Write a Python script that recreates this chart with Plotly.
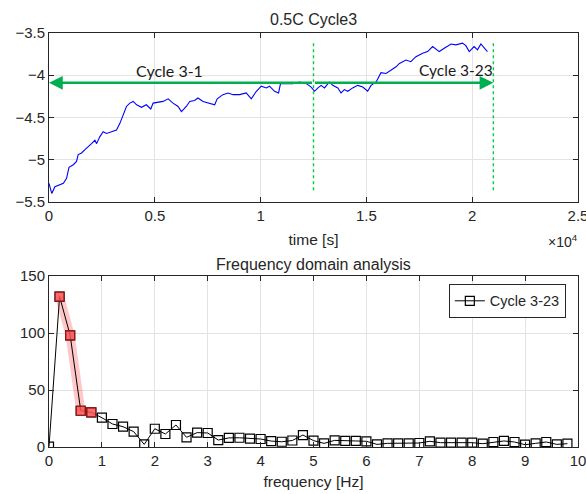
import plotly.graph_objects as go

# ---- time-domain trace (0.5C, cycle 3) ----
time_s = [0, 130, 280, 520, 680, 830, 945, 1150, 1300, 1380, 1540, 1700, 1850, 2010,
          2170, 2250, 2400, 2560, 2720, 2960, 3190, 3350, 3500, 3660, 3820, 3980,
          4140, 4370, 4600, 4810, 4920, 5160, 5390, 5630, 5860, 6100, 6260, 6490,
          6650, 6880, 7040, 7280, 7520, 7830, 7950, 8220, 8460, 8700, 9010, 9320,
          9560, 9800, 10030, 10270, 10420, 10660, 10850, 10940, 11210, 11520, 11840,
          12160, 12390, 12550, 12710, 12860, 13020, 13250, 13410, 13650, 13800, 13960,
          14120, 14350, 14590, 14830, 15060, 15220, 15460, 15690, 15930, 16160, 16400,
          16560, 16870, 17100, 17340, 17660, 17890, 18130, 18440, 18680, 19000, 19230,
          19540, 19700, 19860, 20090, 20250, 20410, 20570, 20720]
voltage = [-5.28, -5.40, -5.32, -5.30, -5.28, -5.22, -5.09, -5.06, -5.02, -4.94, -4.92,
           -4.88, -4.85, -4.81, -4.77, -4.81, -4.73, -4.67, -4.69, -4.67, -4.65, -4.57,
           -4.47, -4.37, -4.33, -4.31, -4.35, -4.38, -4.35, -4.40, -4.33, -4.32, -4.31,
           -4.28, -4.33, -4.37, -4.43, -4.37, -4.31, -4.30, -4.27, -4.31, -4.33, -4.35,
           -4.28, -4.23, -4.21, -4.23, -4.23, -4.21, -4.28, -4.19, -4.13, -4.15, -4.13,
           -4.19, -4.21, -4.10, -4.10, -4.10, -4.08, -4.10, -4.14, -4.19, -4.15, -4.12,
           -4.15, -4.08, -4.12, -4.15, -4.21, -4.17, -4.19, -4.15, -4.12, -4.14, -4.19,
           -4.12, -4.08, -3.97, -3.98, -3.94, -3.90, -3.86, -3.82, -3.84, -3.78, -3.74,
           -3.72, -3.66, -3.72, -3.68, -3.63, -3.64, -3.62, -3.65, -3.72, -3.66, -3.70,
           -3.63, -3.68, -3.72]

time_tickvals = [0, 5000, 10000, 15000, 20000, 25000]
time_ticktext = ["0", "0.5", "1", "1.5", "2", "2.5"]

split_t = 12500       # boundary between Cycle 3-1 and Cycle 3-23
end_t = 21000         # end of Cycle 3-23
arrow_v = -4.09

# ---- frequency-domain spectrum (Cycle 3-23) ----
freq_hz = [0.0, 0.2, 0.4, 0.6, 0.8, 1.0, 1.2, 1.4, 1.6, 1.8, 2.0, 2.2, 2.4, 2.6, 2.8,
           3.0, 3.2, 3.4, 3.6, 3.8, 4.0, 4.2, 4.4, 4.6, 4.8, 5.0, 5.2, 5.4, 5.6, 5.8,
           6.0, 6.2, 6.4, 6.6, 6.8, 7.0, 7.2, 7.4, 7.6, 7.8, 8.0, 8.2, 8.4, 8.6, 8.8,
           9.0, 9.2, 9.4, 9.6, 9.8]
amplitude = [0.3, 132, 98, 31.8, 30.4, 25.7, 20.2, 17.8, 13.5, 2.3, 16, 11.4, 19.3,
             8.5, 12.6, 12.3, 6.1, 8.0, 8.1, 7.4, 7.0, 5.2, 4.6, 5.7, 10.5, 5.6, 3.2,
             5.8, 5.3, 5.3, 5.0, 2.3, 3.2, 3.2, 3.2, 3.5, 5.0, 3.8, 3.8, 3.8, 3.8, 2.9,
             4.4, 5.3, 4.4, 2.0, 3.2, 4.4, 2.3, 2.9]
dominant_idx = [1, 2, 3, 4]     # highlighted low-frequency components
band_idx = [1, 2, 3]

GREEN = "#00B050"
DOT_GREEN = "#00CC44"
AXIS = "#262626"
GRID = "#E3E3E3"
FONT = "Liberation Sans, Arial, sans-serif"
LABEL_FONT = "Lato, Open Sans, sans-serif"

fig = go.Figure()

fig.add_trace(go.Scatter(x=time_s, y=voltage, mode="lines",
                         line=dict(color="#0000FF", width=1.1),
                         xaxis="x", yaxis="y", showlegend=False))

for t in (split_t, end_t):
    fig.add_trace(go.Scatter(x=[t, t], y=[-3.62, -5.39], mode="lines",
                             line=dict(color=DOT_GREEN, width=1.4, dash="dot"),
                             xaxis="x", yaxis="y", showlegend=False))

fig.add_trace(go.Scatter(x=[freq_hz[i] for i in band_idx],
                         y=[amplitude[i] for i in band_idx], mode="lines",
                         line=dict(color="rgba(255,0,0,0.22)", width=9),
                         xaxis="x2", yaxis="y2", showlegend=False))
fig.add_trace(go.Scatter(x=freq_hz, y=amplitude, mode="lines+markers",
                         name="Cycle 3-23",
                         line=dict(color="black", width=1),
                         marker=dict(symbol="square-open", size=9, color="black",
                                     line=dict(width=1.2)),
                         xaxis="x2", yaxis="y2"))
fig.add_trace(go.Scatter(x=[freq_hz[i] for i in dominant_idx],
                         y=[amplitude[i] for i in dominant_idx], mode="markers",
                         marker=dict(symbol="square", size=9, color="rgba(255,80,80,0.85)",
                                     line=dict(color="#8B1A1A", width=1.2)),
                         xaxis="x2", yaxis="y2", showlegend=False))

axis_common = dict(showline=True, linecolor=AXIS, linewidth=1, mirror="ticks",
                   ticks="inside", ticklen=5, tickcolor=AXIS, showgrid=True,
                   gridcolor=GRID, gridwidth=1, zeroline=False, automargin=False,
                   ticklabeloverflow="allow",
                   tickfont=dict(size=15, color=AXIS, family=FONT))

fig.update_layout(
    width=586, height=494,
    margin=dict(l=49, r=8, t=33, b=47, autoexpand=False),
    paper_bgcolor="white", plot_bgcolor="white",
    font=dict(family=FONT, color=AXIS),
    xaxis=dict(range=[0, 25000], tickvals=time_tickvals, ticktext=time_ticktext,
               domain=[0, 1], anchor="y",
               title=dict(text="time [s]", font=dict(size=15.5), standoff=11),
               **axis_common),
    yaxis=dict(range=[-5.5, -3.5], dtick=0.5, domain=[0.592, 1.0], anchor="x",
               **axis_common),
    xaxis2=dict(range=[0, 10], dtick=1, domain=[0, 1], anchor="y2",
                title=dict(text="frequency [Hz]", font=dict(size=15.5), standoff=8),
                **axis_common),
    yaxis2=dict(range=[0, 150], dtick=50, domain=[0, 0.413], anchor="x2",
                **axis_common),
    legend=dict(x=0.977, y=0.394, xref="paper", yref="paper",
                xanchor="right", yanchor="top",
                bgcolor="white", bordercolor=AXIS, borderwidth=1,
                font=dict(size=14.5, color=AXIS, family=FONT)),
)

annotations = [
    dict(text="0.5C Cycle3", xref="paper", yref="paper", x=0.5, y=1.0,
         yshift=3, yanchor="bottom", showarrow=False, font=dict(size=16, color=AXIS)),
    dict(text="Frequency domain analysis", xref="paper", yref="paper", x=0.5, y=0.413,
         yshift=1, yanchor="bottom", showarrow=False, font=dict(size=16, color=AXIS)),
    dict(text="×10<sup>4</sup>", xref="paper", yref="paper", x=1.0, y=0.592,
         xanchor="right", yanchor="top", yshift=-28, xshift=2, showarrow=False,
         font=dict(size=14, color=AXIS)),
    dict(text="Cycle 3-1", xref="x", yref="y", x=5700, y=-3.94, showarrow=False,
         font=dict(size=16, color="#1a1a1a", family=LABEL_FONT)),
    dict(text="Cycle 3-23", xref="x", yref="y", x=19250, y=-3.94, showarrow=False,
         font=dict(size=15.5, color="#1a1a1a", family=LABEL_FONT)),
    dict(text="", xref="x", yref="y", axref="x", ayref="y",
         x=0, y=arrow_v, ax=split_t, ay=arrow_v, showarrow=True,
         arrowhead=2, arrowsize=1.1, arrowwidth=2.5, arrowcolor=GREEN),
    dict(text="", xref="x", yref="y", axref="x", ayref="y",
         x=end_t, y=arrow_v, ax=split_t, ay=arrow_v, showarrow=True,
         arrowhead=2, arrowsize=1.1, arrowwidth=2.5, arrowcolor=GREEN),
]
fig.update_layout(annotations=annotations)

fig.write_html("out.html")
